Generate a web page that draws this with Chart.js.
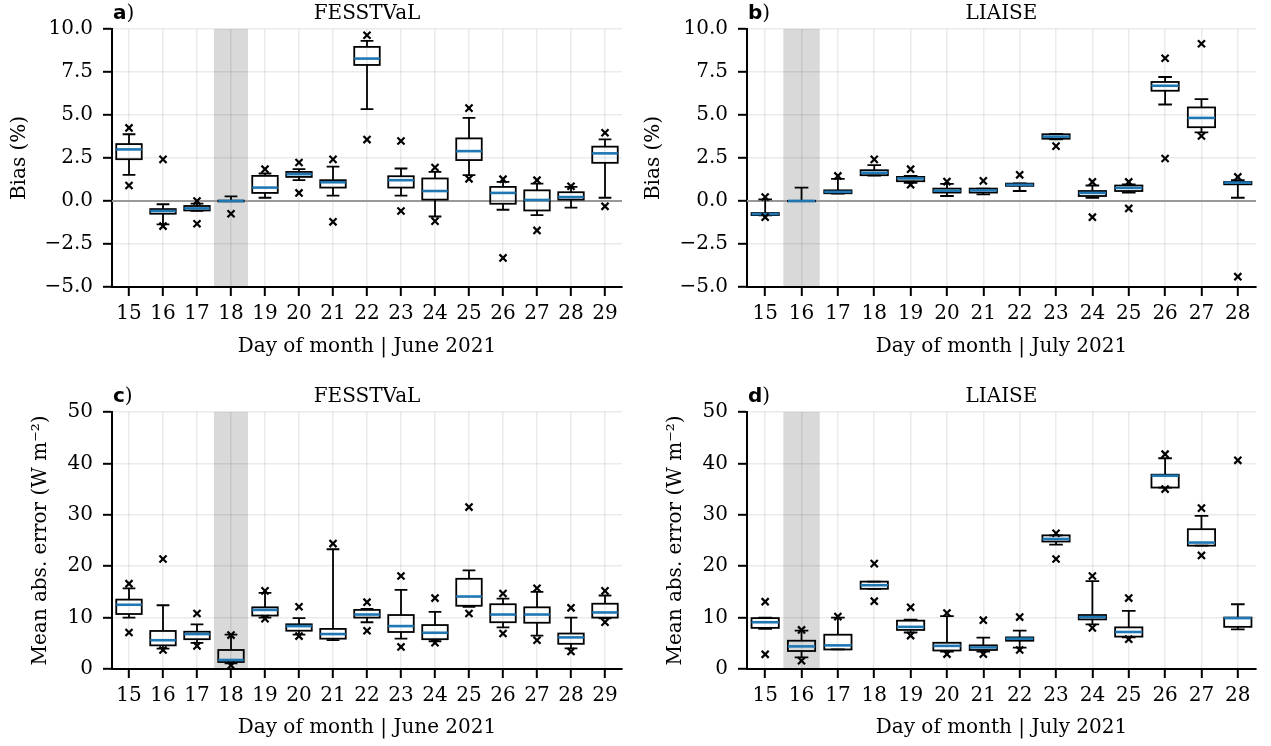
<!DOCTYPE html>
<html>
<head>
<meta charset="utf-8">
<script src="https://cdn.jsdelivr.net/npm/chart.js@4/dist/chart.umd.min.js"></script>
<style>
  html, body { margin: 0; padding: 0; background: #fff; width: 1271px; height: 746px; overflow: hidden; }
  .panel { position: absolute; }
  canvas { display: block; }
</style>
</head>
<body>
<div class="panel" style="left:0;top:0"><canvas id="cA" width="635" height="372"></canvas></div>
<div class="panel" style="left:635px;top:0"><canvas id="cB" width="636" height="372"></canvas></div>
<div class="panel" style="left:0;top:372px"><canvas id="cC" width="635" height="374"></canvas></div>
<div class="panel" style="left:635px;top:372px"><canvas id="cD" width="636" height="374"></canvas></div>
<script>
// ---- Days on the x axis ----
const juneDays = [15, 16, 17, 18, 19, 20, 21, 22, 23, 24, 25, 26, 27, 28, 29];
const julyDays = [15, 16, 17, 18, 19, 20, 21, 22, 23, 24, 25, 26, 27, 28];

// ---- Y tick values and labels ----
const biasTicks = [-5, -2.5, 0, 2.5, 5, 7.5, 10];
const biasTickLabels = ['\u22125.0', '\u22122.5', '0.0', '2.5', '5.0', '7.5', '10.0'];
const maeTicks = [0, 10, 20, 30, 40, 50];
const maeTickLabels = ['0', '10', '20', '30', '40', '50'];

// ---- FESSTVaL bias (%) : whisker low, Q1, median, Q3, whisker high, outliers ----
const fesBiasLow = [1.52, -1.36, -0.57, 0.00, 0.19, 1.21, 0.31, 5.34, 0.31, -0.90, 1.50, -0.51, -0.82, -0.39, 0.19];
const fesBiasQ1  = [2.43, -0.74, -0.55, -0.02, 0.47, 1.40, 0.78, 7.91, 0.78, 0.08, 2.38, -0.16, -0.55, 0.08, 2.22];
const fesBiasMed = [3.00, -0.58, -0.43, 0.00, 0.78, 1.56, 1.09, 8.28, 1.21, 0.58, 2.90, 0.47, 0.06, 0.23, 2.77];
const fesBiasQ3  = [3.31, -0.47, -0.29, 0.02, 1.46, 1.69, 1.21, 8.96, 1.44, 1.31, 3.64, 0.82, 0.62, 0.51, 3.16];
const fesBiasHigh = [3.88, -0.19, -0.15, 0.27, 1.60, 1.85, 2.00, 9.31, 1.89, 1.69, 4.83, 1.11, 1.01, 0.82, 3.58];
const fesBiasOut = [[4.25, 0.90], [2.42, -1.46], [0.00, -1.32], [-0.74], [1.85], [2.24, 0.47], [2.42, -1.21],
  [9.64, 3.57], [3.49, -0.58], [1.95, -1.17], [5.40, 1.29], [1.27, -3.31], [1.21, -1.71], [0.86], [3.97, -0.31]];

// ---- LIAISE bias (%) ----
const liaBiasLow = [-0.84, 0.00, 0.43, 1.48, 1.05, 0.29, 0.39, 0.58, 3.58, 0.19, 0.49, 5.61, 3.99, 0.19];
const liaBiasQ1  = [-0.82, -0.01, 0.45, 1.50, 1.15, 0.49, 0.49, 0.88, 3.62, 0.29, 0.58, 6.41, 4.29, 0.97];
const liaBiasMed = [-0.76, 0.00, 0.53, 1.64, 1.31, 0.60, 0.62, 0.94, 3.74, 0.47, 0.76, 6.70, 4.83, 1.07];
const liaBiasQ3  = [-0.70, 0.01, 0.62, 1.79, 1.40, 0.72, 0.72, 1.01, 3.88, 0.58, 0.90, 6.92, 5.44, 1.11];
const liaBiasHigh = [0.10, 0.78, 1.29, 2.08, 1.46, 0.99, 0.72, 1.03, 3.90, 0.90, 0.97, 7.21, 5.92, 1.21];
const liaBiasOut = [[0.23, -0.94], [], [1.46], [2.42], [1.85, 0.95], [1.13], [1.17], [1.52], [3.19],
  [1.11, -0.94], [1.11, -0.43], [8.30, 2.47], [9.14, 3.78], [1.40, -4.40]];

// ---- FESSTVaL mean absolute error (W m-2) ----
const fesMaeLow = [10.0, 3.95, 5.1, 1.1, 10.0, 6.7, 5.6, 9.1, 5.9, 5.4, 12.1, 8.1, 6.5, 4.0, 9.85];
const fesMaeQ1  = [10.7, 4.6, 5.8, 1.36, 10.4, 7.45, 5.9, 10.0, 7.2, 5.8, 12.3, 9.1, 9.0, 4.9, 10.0];
const fesMaeMed = [12.5, 5.6, 6.8, 1.75, 11.5, 8.35, 6.8, 10.6, 8.35, 7.05, 14.1, 10.6, 10.6, 6.15, 11.0];
const fesMaeQ3  = [13.5, 7.4, 7.25, 3.7, 12.0, 8.7, 7.8, 11.5, 10.5, 8.55, 17.55, 12.6, 12.0, 6.9, 12.7];
const fesMaeHigh = [15.7, 12.4, 8.7, 6.7, 14.8, 9.9, 23.3, 11.7, 15.4, 11.1, 19.2, 13.7, 15.0, 10.0, 14.3];
const fesMaeOut = [[16.6, 7.1], [21.4, 3.7], [10.8, 4.5], [6.6, 0.7], [15.2, 9.8], [12.1, 6.4], [24.4],
  [13.0, 7.45], [18.1, 4.3], [13.8, 5.1], [31.5, 10.8], [14.7, 6.9], [15.7, 5.6], [11.9, 3.4], [15.2, 9.1]];

// ---- LIAISE mean absolute error (W m-2) ----
const liaMaeLow = [7.8, 2.27, 3.8, 15.6, 7.1, 3.4, 3.4, 4.15, 24.2, 8.7, 6.15, 35.3, 24.0, 7.7];
const liaMaeQ1  = [8.0, 3.5, 3.8, 15.6, 7.6, 3.6, 3.7, 5.5, 24.8, 9.65, 6.3, 35.3, 24.0, 8.2];
const liaMaeMed = [9.1, 4.4, 4.6, 16.3, 8.2, 4.5, 4.2, 5.9, 25.3, 10.1, 7.2, 37.6, 24.6, 9.9];
const liaMaeQ3  = [9.9, 5.5, 6.67, 17.0, 9.4, 5.1, 4.6, 6.15, 26.0, 10.5, 8.1, 37.8, 27.2, 10.0];
const liaMaeHigh = [10.0, 7.45, 10.0, 17.0, 9.6, 10.3, 6.1, 7.45, 26.0, 17.1, 11.3, 41.0, 29.8, 12.6];
const liaMaeOut = [[13.1, 2.85], [7.6, 1.6], [10.2], [20.5, 13.2], [12.0, 6.5], [10.9, 2.9], [9.5, 2.9],
  [10.1, 3.7], [26.4, 21.4], [18.1, 8.0], [13.8, 5.8], [41.8, 35.0], [31.3, 22.1], [40.6]];

// ---- Styling ----
const FS = 20;
const SERIF = '"DejaVu Serif", serif';
const GRID = 'rgba(0,0,0,0.08)';
const SHADE = '#d9d9d9';
const MEDIAN = '#1f77b4';
const BOX_W = 0.75;
const LINE_W = 1.8;

Chart.defaults.font.family = SERIF;
Chart.defaults.font.size = FS;
Chart.defaults.color = '#000';

function makePanel(p) {
  const flierPoints = [];
  p.days.forEach((d, i) => p.out[i].forEach(v => flierPoints.push({ x: d, y: v })));

  const boxPlugin = {
    id: 'boxes' + p.letter,
    beforeDraw(chart) {
      // excluded-day band behind everything
      const { ctx, chartArea: a, scales: { x } } = chart;
      const x0 = x.getPixelForValue(p.shadeDay - 0.5);
      const x1 = x.getPixelForValue(p.shadeDay + 0.5);
      ctx.save();
      ctx.fillStyle = SHADE;
      ctx.fillRect(x0, a.top, x1 - x0, a.bottom - a.top);
      ctx.restore();
    },
    beforeDatasetsDraw(chart) {
      const { ctx, chartArea: a, scales: { x, y } } = chart;
      ctx.save();
      if (p.zeroLine) {
        const y0 = y.getPixelForValue(0);
        ctx.strokeStyle = '#999999';
        ctx.lineWidth = 2;
        ctx.beginPath(); ctx.moveTo(a.left, y0); ctx.lineTo(a.right, y0); ctx.stroke();
      }
      p.days.forEach((d, i) => {
        const xl = x.getPixelForValue(d - BOX_W / 2);
        const xr = x.getPixelForValue(d + BOX_W / 2);
        const xc = x.getPixelForValue(d);
        const cl = x.getPixelForValue(d - BOX_W / 4);
        const cr = x.getPixelForValue(d + BOX_W / 4);
        const yLo = y.getPixelForValue(p.low[i]);
        const yQ1 = y.getPixelForValue(p.q1[i]);
        const yMed = y.getPixelForValue(p.med[i]);
        const yQ3 = y.getPixelForValue(p.q3[i]);
        const yHi = y.getPixelForValue(p.high[i]);
        ctx.strokeStyle = '#000';
        ctx.lineWidth = LINE_W;
        ctx.beginPath();
        // whiskers
        ctx.moveTo(xc, yQ1); ctx.lineTo(xc, yLo);
        ctx.moveTo(xc, yQ3); ctx.lineTo(xc, yHi);
        // caps
        ctx.moveTo(cl, yLo); ctx.lineTo(cr, yLo);
        ctx.moveTo(cl, yHi); ctx.lineTo(cr, yHi);
        ctx.stroke();
        // box
        ctx.strokeRect(xl, yQ3, xr - xl, yQ1 - yQ3);
        // median
        ctx.strokeStyle = MEDIAN;
        ctx.lineWidth = 2.6;
        ctx.beginPath(); ctx.moveTo(xl, yMed); ctx.lineTo(xr, yMed); ctx.stroke();
      });
      ctx.restore();
    },
    afterDraw(chart) {
      const { ctx, chartArea: a } = chart;
      const base = a.top - 10;
      ctx.save();
      ctx.fillStyle = '#000';
      ctx.textBaseline = 'alphabetic';
      ctx.textAlign = 'left';
      ctx.font = 'bold ' + FS + 'px "DejaVu Sans", sans-serif';
      ctx.fillText(p.letter, a.left + 1, base);
      const w = ctx.measureText(p.letter).width;
      ctx.font = FS + 'px ' + SERIF;
      ctx.fillText(')', a.left + 1 + w, base);
      ctx.textAlign = 'center';
      ctx.fillText(p.title, (a.left + a.right) / 2, base);
      ctx.restore();
    }
  };

  return new Chart(document.getElementById(p.canvas), {
    type: 'scatter',
    data: {
      datasets: [{
        data: flierPoints,
        pointStyle: 'crossRot',
        radius: 5,
        borderColor: '#000',
        backgroundColor: '#000',
        borderWidth: 2.2,
        showLine: false
      }]
    },
    options: {
      responsive: false,
      animation: false,
      events: [],
      layout: { padding: { top: p.padTop, right: p.padRight, left: 0, bottom: 0 } },
      plugins: { legend: { display: false }, tooltip: { enabled: false }, title: { display: false } },
      scales: {
        x: {
          type: 'linear',
          min: p.days[0] - 0.5,
          max: p.days[p.days.length - 1] + 0.5,
          afterBuildTicks: s => { s.ticks = p.days.map(d => ({ value: d })); },
          afterFit: s => { s.height = p.xHeight; },
          ticks: { callback: v => String(v), padding: 6, maxRotation: 0, autoSkip: false, color: '#000' },
          grid: { color: GRID, lineWidth: 1.6, tickColor: '#000', tickWidth: 2, tickLength: 9 },
          border: { color: '#000', width: 2 },
          title: { display: true, text: p.xTitle, color: '#000', padding: { top: 0, bottom: p.xTitlePad } }
        },
        y: {
          type: 'linear',
          min: p.yTicks[0],
          max: p.yTicks[p.yTicks.length - 1],
          afterBuildTicks: s => { s.ticks = p.yTicks.map(v => ({ value: v })); },
          afterFit: s => { s.width = 112; },
          ticks: { callback: (v, i) => p.yLabels[i], padding: 10, color: '#000' },
          grid: { color: GRID, lineWidth: 1.6, tickColor: '#000', tickWidth: 2, tickLength: 9 },
          border: { color: '#000', width: 2 },
          title: { display: true, text: p.yTitle, color: '#000', padding: { top: p.yTitlePad, bottom: 0 } }
        }
      }
    },
    plugins: [boxPlugin]
  });
}

const LH2 = FS * 1.2 / 2;

makePanel({
  canvas: 'cA', letter: 'a', title: 'FESSTVaL', days: juneDays, shadeDay: 18, zeroLine: true,
  low: fesBiasLow, q1: fesBiasQ1, med: fesBiasMed, q3: fesBiasQ3, high: fesBiasHigh, out: fesBiasOut,
  yTicks: biasTicks, yLabels: biasTickLabels, yTitle: 'Bias (%)', xTitle: 'Day of month | June 2021',
  padTop: 29, padRight: 13, xHeight: 85, xTitlePad: 25.5 - LH2, yTitlePad: 20 - LH2
});
makePanel({
  canvas: 'cB', letter: 'b', title: 'LIAISE', days: julyDays, shadeDay: 16, zeroLine: true,
  low: liaBiasLow, q1: liaBiasQ1, med: liaBiasMed, q3: liaBiasQ3, high: liaBiasHigh, out: liaBiasOut,
  yTicks: biasTicks, yLabels: biasTickLabels, yTitle: 'Bias (%)', xTitle: 'Day of month | July 2021',
  padTop: 29, padRight: 15, xHeight: 85, xTitlePad: 25.5 - LH2, yTitlePad: 19 - LH2
});
makePanel({
  canvas: 'cC', letter: 'c', title: 'FESSTVaL', days: juneDays, shadeDay: 18, zeroLine: false,
  low: fesMaeLow, q1: fesMaeQ1, med: fesMaeMed, q3: fesMaeQ3, high: fesMaeHigh, out: fesMaeOut,
  yTicks: maeTicks, yLabels: maeTickLabels, yTitle: 'Mean abs. error (W m\u207B\u00B2)', xTitle: 'Day of month | June 2021',
  padTop: 40, padRight: 13, xHeight: 77, xTitlePad: 18 - LH2, yTitlePad: 41 - LH2
});
makePanel({
  canvas: 'cD', letter: 'd', title: 'LIAISE', days: julyDays, shadeDay: 16, zeroLine: false,
  low: liaMaeLow, q1: liaMaeQ1, med: liaMaeMed, q3: liaMaeQ3, high: liaMaeHigh, out: liaMaeOut,
  yTicks: maeTicks, yLabels: maeTickLabels, yTitle: 'Mean abs. error (W m\u207B\u00B2)', xTitle: 'Day of month | July 2021',
  padTop: 40, padRight: 15, xHeight: 77, xTitlePad: 18 - LH2, yTitlePad: 41 - LH2
});
</script>
</body>
</html>
